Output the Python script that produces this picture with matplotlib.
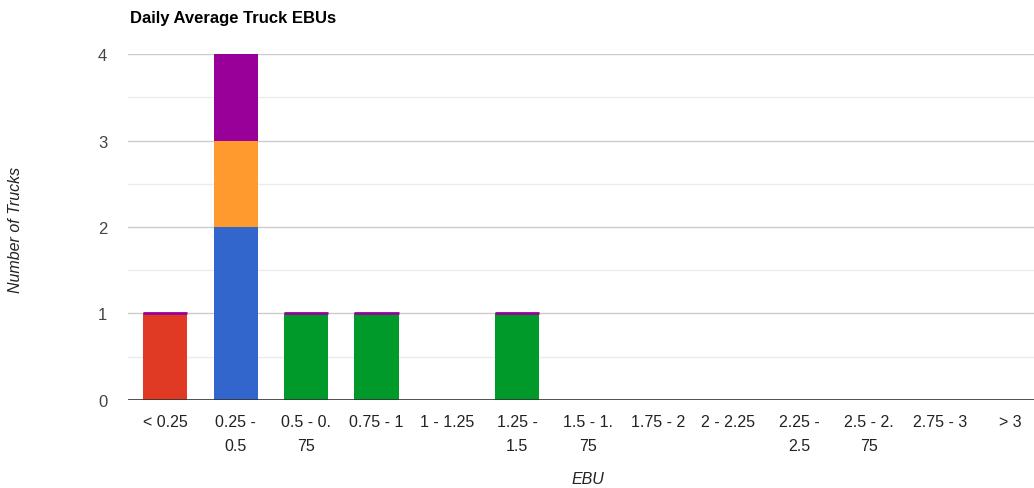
import numpy as np
import matplotlib.pyplot as plt

plt.rcParams['font.family'] = ['Liberation Sans', 'DejaVu Sans']

# EBU bins and number of trucks per bin, one list per stacked colour
bins = ['< 0.25', '0.25 -\n0.5', '0.5 - 0.\n75', '0.75 - 1', '1 - 1.25',
        '1.25 -\n1.5', '1.5 - 1.\n75', '1.75 - 2', '2 - 2.25', '2.25 -\n2.5',
        '2.5 - 2.\n75', '2.75 - 3', '> 3']
red = [1, 0, 0, 0, 0, 0, 0, 0, 0, 0, 0, 0, 0]
blue = [0, 2, 0, 0, 0, 0, 0, 0, 0, 0, 0, 0, 0]
orange = [0, 1, 0, 0, 0, 0, 0, 0, 0, 0, 0, 0, 0]
green = [0, 0, 1, 1, 0, 1, 0, 0, 0, 0, 0, 0, 0]
purple = [0, 1, 0, 0, 0, 0, 0, 0, 0, 0, 0, 0, 0]

series = [(red, '#e03a24'), (blue, '#3366cc'), (orange, '#ff9a2e'),
          (green, '#009a2b'), (purple, '#990099')]

fig = plt.figure(figsize=(10.34, 4.89), dpi=100)
ax = fig.add_axes([0.1238, 0.18, 0.8762, 0.7075])

x = np.arange(len(bins))
w = 0.63
bottom = np.zeros(len(bins))
for vals, col in series:
    v = np.array(vals, dtype=float)
    ax.bar(x, v, w, bottom=bottom, color=col, linewidth=0, zorder=3)
    bottom += v

# thin purple cap on bars without a purple segment
cap = (bottom > 0) & (np.array(purple) == 0)
ax.hlines(bottom[cap], x[cap] - w / 2, x[cap] + w / 2, colors='#990099',
          linewidth=2, zorder=4)

ax.set_xlim(-0.53, 12.34)
ax.set_ylim(0, 4)
ax.set_yticks([0, 1, 2, 3, 4])
ax.set_yticks([0.5, 1.5, 2.5, 3.5], minor=True)
ax.grid(axis='y', which='major', color='#cccccc', linewidth=1, zorder=0)
ax.grid(axis='y', which='minor', color='#ebebeb', linewidth=1, zorder=0)
ax.axhline(0, color='#333333', linewidth=1.2, zorder=5)

ax.set_xticks(x)
ax.set_xticklabels(bins, fontsize=11.5, color='#222222', linespacing=1.75,
                   va='top')
ax.tick_params(axis='x', length=0, pad=10)
ax.tick_params(axis='y', which='both', length=0, pad=15, labelsize=12,
               labelcolor='#444444')
for s in ax.spines.values():
    s.set_visible(False)

ax.set_xlabel('EBU', fontsize=11.5, style='italic', color='#222222',
              va='center')
ax.xaxis.set_label_coords(0.508, -0.228)
ax.set_ylabel('Number of Trucks', fontsize=11.5, style='italic',
              color='#222222', va='center')
ax.yaxis.set_label_coords(-0.1247, 0.494)
fig.text(0.1257, 0.962, 'Daily Average Truck EBUs', fontsize=12,
         fontweight='bold', color='#000000', va='center')

fig.savefig('out.png', dpi=100)
